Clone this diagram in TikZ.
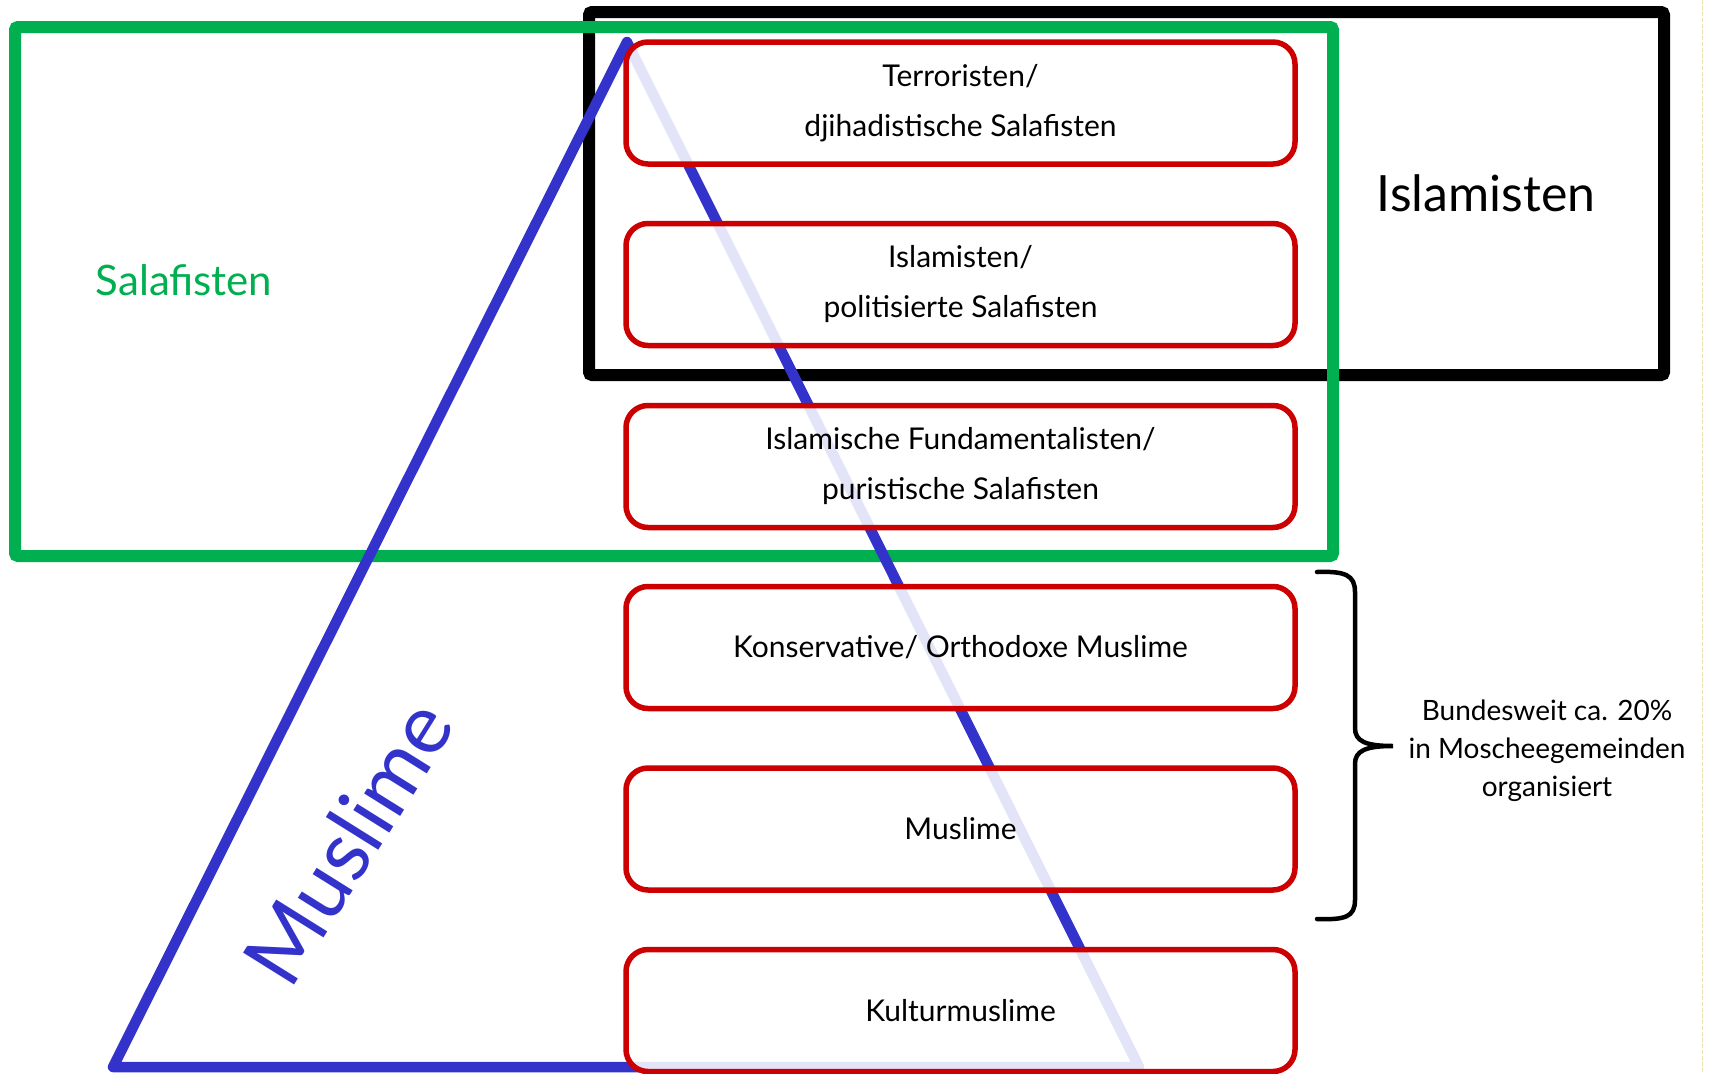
\documentclass[tikz,border=0pt]{standalone}
\usepackage{fontspec}
\setmainfont{Lato}
\definecolor{sgreen}{HTML}{00B050}
\definecolor{sred}{HTML}{CC0000}
\definecolor{sblue}{HTML}{3333CC}
\definecolor{stan}{HTML}{F2DDA8}
\begin{document}
\begin{tikzpicture}[x=1pt,y=-1pt,
  levelbox/.style={draw=sred, line width=5.5pt, rounded corners=22pt, fill=white, fill opacity=0.87, text opacity=1,
    minimum width=669pt, minimum height=122pt, inner sep=0pt, align=center,
    font=\fontsize{30}{50}\selectfont},
  frame/.style={line width=12pt, rounded corners=3pt}
]
\useasboundingbox (0,0) rectangle (1717,1074);
\fill[white] (0,0) rectangle (1717,1074);
% faint slide edge
\draw[stan, line width=1pt, dash pattern=on 4pt off 2pt] (1702,0) -- (1702,1074);
% Islamisten frame
\draw[frame, black] (589,12) rectangle (1664,375);
% Salafisten frame
\draw[frame, sgreen] (15,27) rectangle (1333,556);
% Muslime triangle
\coordinate (apex) at (627,42);
\coordinate (bl) at (113,1067);
\coordinate (br) at (1139,1067);
\draw[sblue, line width=10.5pt, line join=round, line cap=round] (apex) -- (bl) -- (br) -- cycle;
% level boxes
\node[levelbox] (b1) at (960.5,103) {Terroristen/\\djihadistische Salafisten};
\node[levelbox] (b2) at (960.5,284.5) {Islamisten/\\politisierte Salafisten};
\node[levelbox] (b3) at (960.5,466.5) {Islamische Fundamentalisten/\\puristische Salafisten};
\node[levelbox] (b4) at (960.5,647.5) {Konservative/ Orthodoxe Muslime};
\node[levelbox] (b5) at (960.5,829) {Muslime};
\node[levelbox] (b6) at (960.5,1010.5) {Kulturmuslime};
% labels
\node[font=\fontsize{50}{55}\selectfont] (lislam) at (1486,193) {Islamisten};
\node[font=\fontsize{42}{46}\selectfont, text=sgreen] (lsalaf) at (184,280) {Salafisten};
\node[font=\fontsize{84}{90}\selectfont, text=sblue, rotate=58] (lmuslim) at (348,842) {Muslime};
% brace
\coordinate (btop) at (1317,572);
\coordinate (btip) at (1393,746);
\coordinate (bbot) at (1317,919);
\draw[line width=4.5pt, line cap=round] (btop) .. controls (1345,571) and (1355,575) .. (1355,592) -- (1355,728)
  .. controls (1355,741) and (1365,746) .. (btip)
  .. controls (1365,746) and (1355,751) .. (1355,764) -- (1355,900)
  .. controls (1355,917) and (1345,920) .. (bbot);
\node[anchor=west, font=\fontsize{28}{38}\selectfont, align=center] (lbund) at (1405,751) {Bundesweit ca. 20\%\\in Moscheegemeinden\\organisiert};
\end{tikzpicture}
\end{document}
